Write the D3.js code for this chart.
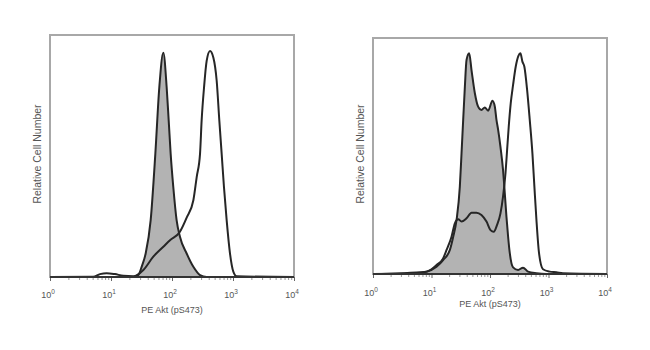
<!DOCTYPE html>
<html>
<head>
<meta charset="utf-8">
<script src="https://cdn.jsdelivr.net/npm/d3@7"></script>
<style>
html,body{margin:0;padding:0;background:#fff;}
svg{display:block;}
text{font-family:"Liberation Sans",Arial,sans-serif;fill:#555;}
</style>
</head>
<body>
<svg id="chart" width="650" height="350"></svg>
<script>
// Fluorescence intensity (PE Akt pS473) and relative cell number (% of panel height)
const tickValues = [1, 10, 100, 1000, 10000];
const tickExponents = ["0", "1", "2", "3", "4"];
const xAxisTitle = "PE Akt (pS473)";
const yAxisTitle = "Relative Cell Number";

// Left panel
const leftControlX = [1, 23.2, 28.1, 31.8, 37.0, 44.7, 53.3, 61.9, 72.1, 81.8, 88.3, 95.1, 105, 119, 135, 174, 224, 288, 370, 10000];
const leftControlY = [0, 0, 0.8, 4.2, 9.7, 23.5, 50.9, 78.3, 92.7, 78.3, 64.6, 50.9, 37.2, 23.5, 16.6, 9.7, 4.2, 0.8, 0, 0];
const leftStimX = [1, 5.1, 6.6, 8.5, 11.6, 15.9, 23.2, 33.9, 49.4, 72.1, 92.7, 135, 174, 224, 254, 288, 306, 335, 370, 420, 476, 540, 597, 652, 711, 787, 893, 1012, 1148, 10000];
const leftStimY = [0, 0.1, 1.2, 1.6, 1.2, 0.5, 0.3, 2.9, 8.4, 12.5, 15.2, 18.7, 24.5, 31.7, 41.3, 50.9, 64.6, 78.3, 89.3, 93.4, 90.7, 81.1, 64.6, 50.9, 37.2, 23.5, 9.7, 2.2, 0.3, 0];

// Right panel
const rightControlX = [1, 4.9, 8.2, 12.2, 15.8, 20.6, 23.5, 26.8, 30.5, 32.6, 34.8, 37.2, 39.7, 44.1, 48.3, 55.1, 62.7, 71.4, 81.5, 92.9, 110, 121, 129, 138, 151, 167, 179, 191, 204, 218, 248, 302, 367, 447, 622, 920, 10000];
const rightControlY = [0, 0.3, 1.0, 3.1, 5.9, 10.2, 15.8, 22.9, 37.0, 51.1, 65.3, 79.4, 90.7, 93.5, 86.4, 76.6, 70.9, 69.5, 70.6, 69.2, 73.4, 70.9, 65.3, 61.0, 53.9, 44.1, 34.2, 24.3, 15.8, 8.8, 2.8, 1.7, 2.7, 1.0, 0.3, 0, 0];
const rightStimX = [1, 8.2, 12.2, 15.8, 18.1, 22.0, 25.1, 28.6, 32.6, 39.7, 48.3, 58.7, 71.4, 87.1, 102, 116, 132, 151, 167, 184, 196, 209, 226, 248, 275, 306, 331, 358, 387, 431, 478, 531, 574, 622, 689, 805, 1047, 1365, 1766, 10000];
const rightStimY = [0, 1.0, 3.8, 6.6, 10.2, 15.8, 21.5, 23.2, 22.2, 23.6, 26.0, 26.0, 25.0, 22.2, 18.6, 17.9, 20.8, 25.7, 32.8, 42.7, 52.5, 62.4, 72.3, 80.1, 87.8, 92.4, 93.5, 90.0, 87.8, 78.0, 65.3, 51.1, 37.0, 22.9, 8.8, 2.0, 1.0, 0.7, 0.3, 0];

const panels = [
  {x0: 50, x1: 294, y0: 35, y1: 277, tickY: 298, titleY: 313, yTitleX: 41,
   ctrlX: leftControlX, ctrlY: leftControlY, stimX: leftStimX, stimY: leftStimY},
  {x0: 373, x1: 607, y0: 38, y1: 274, tickY: 296, titleY: 307, yTitleX: 364,
   ctrlX: rightControlX, ctrlY: rightControlY, stimX: rightStimX, stimY: rightStimY}
];

const svg = d3.select("#chart");

panels.forEach(p => {
  const g = svg.append("g");
  const x = d3.scaleLog().domain([1, 10000]).range([p.x0, p.x1]);
  const y = d3.scaleLinear().domain([0, 100]).range([p.y1, p.y0]);

  const ctrl = p.ctrlX.map((v, i) => [v, p.ctrlY[i]]);
  const stim = p.stimX.map((v, i) => [v, p.stimY[i]]);

  const area = d3.area().x(d => x(d[0])).y0(y(0)).y1(d => y(d[1])).curve(d3.curveMonotoneX);
  const line = d3.line().x(d => x(d[0])).y(d => y(d[1])).curve(d3.curveMonotoneX);

  // frame (top, left, right)
  g.append("rect")
    .attr("x", p.x0).attr("y", p.y0)
    .attr("width", p.x1 - p.x0).attr("height", p.y1 - p.y0)
    .attr("fill", "none").attr("stroke", "#a8a8a8").attr("stroke-width", 2);

  g.append("path").datum(ctrl).attr("d", area).attr("fill", "#b3b3b3");
  g.append("path").datum(ctrl).attr("d", line).attr("fill", "none")
    .attr("stroke", "#262626").attr("stroke-width", 2);
  g.append("path").datum(stim).attr("d", line).attr("fill", "none")
    .attr("stroke", "#262626").attr("stroke-width", 2);

  // bottom axis with minor ticks
  const minor = [];
  for (let e = 0; e < 4; e++) for (let k = 2; k <= 9; k++) minor.push(k * Math.pow(10, e));
  const axisG = g.append("g").attr("transform", `translate(0,${p.y1})`);
  axisG.call(d3.axisBottom(x).tickValues(minor).tickSize(3).tickFormat(""))
    .call(a => a.select(".domain").remove())
    .call(a => a.selectAll("line").attr("stroke", "#999"));
  const majorG = g.append("g").attr("transform", `translate(0,${p.y1})`);
  majorG.call(d3.axisBottom(x).tickValues(tickValues).tickSize(4).tickFormat(""))
    .call(a => a.select(".domain").remove())
    .call(a => a.selectAll("line").attr("stroke", "#666"));
  g.append("line").attr("x1", p.x0).attr("x2", p.x1).attr("y1", p.y1).attr("y2", p.y1)
    .attr("stroke", "#333").attr("stroke-width", 2);

  // tick labels
  tickValues.forEach((v, i) => {
    const t = g.append("text").attr("x", x(v) - 2).attr("y", p.tickY)
      .attr("text-anchor", "middle").attr("font-size", 9);
    t.append("tspan").text("10");
    t.append("tspan").attr("dy", -4).attr("font-size", 6.5).text(tickExponents[i]);
  });

  g.append("text").attr("x", (p.x0 + p.x1) / 2).attr("y", p.titleY)
    .attr("text-anchor", "middle").attr("font-size", 9).text(xAxisTitle);

  g.append("text")
    .attr("transform", `translate(${p.yTitleX},${(p.y0 + p.y1) / 2 - 2}) rotate(-90)`)
    .attr("text-anchor", "middle").attr("font-size", 10.5).text(yAxisTitle);
});
</script>
</body>
</html>
